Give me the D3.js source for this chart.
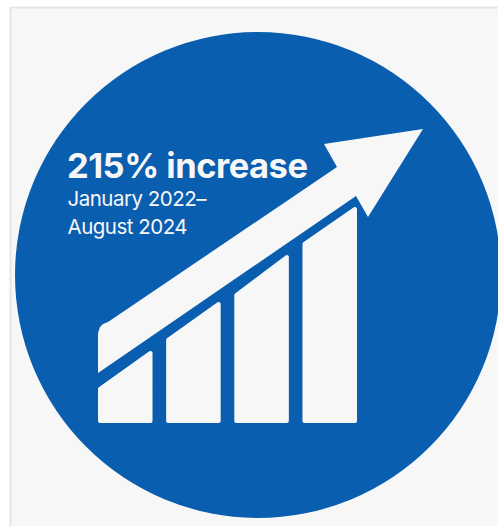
<!DOCTYPE html>
<html>
<head>
<meta charset="utf-8">
<script src="https://cdn.jsdelivr.net/npm/d3@7"></script>
<style>
html, body { margin: 0; padding: 0; background: #fff; overflow: hidden; }
svg { display: block; }
text { font-family: Inter, sans-serif; fill: #f7f7f7; }
</style>
</head>
<body>
<div id="chart"></div>
<script>
var barNames = ['a', 'b', 'c', 'd'];
var barStart = [36, 85, 130, 181];
var barEnd = [72, 121, 168, 216];

// arrow outline, same units as the bars
var arrowX = [0, 258, 270, 325, 226, 239, 10, 5, 2, 0];
var arrowY = [50, 227, 206, 294, 279, 256, 101, 99, 96, 90];

var headline = '215% increase';
var subLines = ['January 2022\u2013', 'August 2024'];

var width = 498, height = 526;
var blue = '#0a5eb0', pale = '#f7f7f7';

var svg = d3.select('#chart').append('svg')
    .attr('width', width).attr('height', height);

svg.append('rect')
    .attr('x', 10.5).attr('y', 7.5)
    .attr('width', width).attr('height', height)
    .attr('fill', pale).attr('stroke', '#e6e6e6').attr('stroke-width', 2);

svg.append('circle')
    .attr('cx', 258).attr('cy', 275).attr('r', 243)
    .attr('fill', blue);

var x = d3.scaleBand().domain(barNames).range([98, 357]).paddingInner(0.2);
var xPos = d3.scaleLinear().domain([0, 259]).range([98, 357]);
var y = d3.scaleLinear().domain([0, 216]).range([423, 207]);

// rounded corners come from the stroke, so pull the shape in by half of it
var inset = 2;

svg.selectAll('path.bar')
    .data(barNames)
    .enter().append('path')
    .attr('class', 'bar')
    .attr('d', function(d, i) {
        var l = x(d) + inset, r = x(d) + x.bandwidth() - inset;
        var p = d3.path();
        p.moveTo(l, y(inset));
        p.lineTo(l, y(barStart[i] - inset));
        p.lineTo(r, y(barEnd[i] - inset));
        p.lineTo(r, y(inset));
        p.closePath();
        return p.toString();
    })
    .attr('fill', pale).attr('stroke', pale)
    .attr('stroke-width', inset * 2).attr('stroke-linejoin', 'round');

var arrowLine = d3.line()
    .x(function(d) { return xPos(arrowX[d]); })
    .y(function(d) { return y(arrowY[d]); });

svg.append('path')
    .attr('d', arrowLine(d3.range(arrowX.length)) + 'Z')
    .attr('fill', pale);

svg.append('text')
    .attr('x', 67).attr('y', 178)
    .attr('font-size', 34.5).attr('font-weight', 700)
    .attr('letter-spacing', -0.5)
    .text(headline);

svg.selectAll('text.sub')
    .data(subLines)
    .enter().append('text')
    .attr('class', 'sub')
    .attr('x', 67.5)
    .attr('y', function(d, i) { return 206 + i * 28; })
    .attr('font-size', 20.5)
    .attr('letter-spacing', -0.5)
    .text(function(d) { return d; });
</script>
</body>
</html>
